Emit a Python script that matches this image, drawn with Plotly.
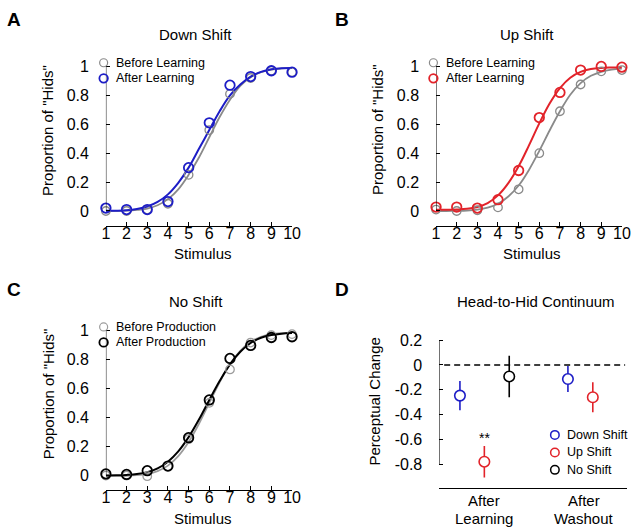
import plotly.graph_objects as go

W, H = 640, 527
FONT = "Liberation Sans, Arial, Helvetica, sans-serif"

# ---------------- data ----------------
stimulus = [1, 2, 3, 4, 5, 6, 7, 8, 9, 10]
fit_x = [1, 1.5, 2, 2.5, 3, 3.5, 4, 4.5, 5, 5.5, 6, 6.5, 7, 7.5, 8, 8.5, 9, 9.5, 10]

# Panel A: Down Shift
down_before = [0.00, 0.00, 0.01, 0.05, 0.25, 0.56, 0.81, 0.92, 0.97, 0.96]
down_after = [0.02, 0.01, 0.01, 0.065, 0.30, 0.61, 0.87, 0.93, 0.97, 0.96]
down_before_fit = [0.0, 0.001, 0.002, 0.007, 0.017, 0.040, 0.082, 0.15, 0.25, 0.37, 0.51,
                   0.65, 0.77, 0.865, 0.925, 0.96, 0.978, 0.986, 0.99]
down_after_fit = [0.001, 0.002, 0.005, 0.014, 0.031, 0.063, 0.115, 0.195, 0.30, 0.43, 0.56,
                  0.69, 0.80, 0.875, 0.93, 0.962, 0.98, 0.988, 0.99]

# Panel B: Up Shift
up_before = [0.01, 0.00, 0.005, 0.025, 0.15, 0.40, 0.69, 0.875, 0.966, 0.975]
up_after = [0.027, 0.027, 0.02, 0.078, 0.28, 0.646, 0.82, 0.975, 1.0, 0.995]
up_before_fit = [0.0, 0.0, 0.001, 0.003, 0.009, 0.023, 0.05, 0.10, 0.176, 0.284, 0.416,
                 0.557, 0.69, 0.804, 0.885, 0.935, 0.963, 0.978, 0.985]
up_after_fit = [0.008, 0.008, 0.01, 0.015, 0.028, 0.055, 0.108, 0.193, 0.31, 0.454, 0.606,
                0.743, 0.85, 0.922, 0.962, 0.982, 0.99, 0.993, 0.995]

# Panel C: No Shift
no_before = [0.00, 0.00, -0.005, 0.063, 0.25, 0.50, 0.73, 0.915, 0.966, 0.973]
no_after = [0.011, 0.007, 0.033, 0.065, 0.26, 0.52, 0.806, 0.895, 0.95, 0.955]
no_before_fit = [-0.003, -0.003, -0.002, 0.002, 0.011, 0.03, 0.068, 0.133, 0.23, 0.356, 0.50,
                 0.642, 0.765, 0.858, 0.92, 0.955, 0.973, 0.98, 0.983]
no_after_fit = [0.0, 0.001, 0.004, 0.01, 0.023, 0.049, 0.095, 0.166, 0.264, 0.385, 0.52,
                0.65, 0.765, 0.852, 0.912, 0.948, 0.967, 0.976, 0.98]

# Panel D: Head-to-Hid Continuum
phases = ["After<br>Learning", "After<br>Washout"]
d_down = [-0.246, -0.113]
d_down_err = [0.117, 0.105]
d_up = [-0.777, -0.259]
d_up_err = [0.126, 0.121]
d_no = [-0.092]
d_no_err = [0.167]

stim_ticks = [1, 2, 3, 4, 5, 6, 7, 8, 9, 10]
prop_ticks = [0, 0.2, 0.4, 0.6, 0.8, 1]
prop_ticktext = ["0", "0.2", "0.4", "0.6", "0.8", "1"]
pc_ticks = [-0.8, -0.6, -0.4, -0.2, 0, 0.2]
pc_ticktext = ["-0.8", "-0.6", "-0.4", "-0.2", "0", "0.2"]

# ---------------- style ----------------
BLUE = "#1d1dc6"
RED = "#e2232a"
GRAY = "#8a8a8a"
LGRAY = "#9c9c9c"
BLACK = "#000000"


def px(x):
    return x / W


def py(y):
    return 1 - y / H


fig = go.Figure()


def add_psych(xa, ya, before, after, before_fit, after_fit, c_before, c_after):
    specs = [
        (before_fit, before, c_before, 1.8, 1.3, 8.5),
        (after_fit, after, c_after, 2.0, 1.8, 9.5),
    ]
    for fit, pts, col, lw, mlw, ms in specs:
        fig.add_trace(go.Scatter(x=fit_x, y=fit, mode="lines", xaxis=xa, yaxis=ya,
                                 line=dict(color=col, width=lw, shape="spline", smoothing=1.0),
                                 showlegend=False, hoverinfo="skip"))
    for fit, pts, col, lw, mlw, ms in specs:
        fig.add_trace(go.Scatter(x=stimulus, y=pts, mode="markers", xaxis=xa, yaxis=ya,
                                 cliponaxis=False,
                                 marker=dict(symbol="circle-open", size=ms, color=col,
                                             line=dict(width=mlw, color=col)),
                                 showlegend=False, hoverinfo="skip"))


add_psych("x", "y", down_before, down_after, down_before_fit, down_after_fit, GRAY, BLUE)
add_psych("x2", "y2", up_before, up_after, up_before_fit, up_after_fit, GRAY, RED)
add_psych("x3", "y3", no_before, no_after, no_before_fit, no_after_fit, LGRAY, BLACK)

# Panel D points (x = phase index + offset)
d_series = [
    (d_down, d_down_err, BLUE, [1, 2], [-0.28, -0.13]),
    (d_up, d_up_err, RED, [1, 2], [-0.02, 0.135]),
    (d_no, d_no_err, BLACK, [1], [0.245]),
]
for vals, errs, col, idx, offs in d_series:
    xs = [i + o for i, o in zip(idx, offs)]
    fig.add_trace(go.Scatter(x=xs, y=vals, mode="markers", xaxis="x4", yaxis="y4",
                             cliponaxis=False,
                             error_y=dict(type="data", array=errs, visible=True, color=col,
                                          thickness=1.6, width=0),
                             marker=dict(symbol="circle", size=10.5, color="white",
                                         line=dict(width=1.6, color=col)),
                             showlegend=False, hoverinfo="skip"))

# ---------------- axes ----------------
tickfont = dict(family=FONT, size=16, color="black")
common_x = dict(showline=True, linecolor="black", linewidth=1, ticks="inside", ticklen=4,
                tickwidth=1, tickcolor="black", showgrid=False, zeroline=False,
                tickfont=tickfont, mirror=False, fixedrange=True, ticklabelstandoff=-7)
common_y = dict(showline=False, ticks="inside", ticklen=4, tickwidth=1, tickcolor="black",
                showgrid=False, zeroline=False, tickfont=tickfont, fixedrange=True,
                ticklabelstandoff=16)

panels = {
    # name: (x0, x1, ytop_px, ybottom_px, yrange)
    "1": (104, 294, 59.1, 223, [-0.103, 1.02]),
    "2": (441, 630.7, 59.1, 223, [-0.103, 1.02]),
    "3": (104, 294, 325.4, 489.3, [-0.0975, 1.02]),
}
for k, (x0, x1, yt, yb, yr) in panels.items():
    xk = "xaxis" if k == "1" else "xaxis" + k
    yk = "yaxis" if k == "1" else "yaxis" + k
    fig.layout[xk] = dict(domain=[px(x0), px(x1)], range=[1, 10], tickvals=stim_ticks,
                          anchor="y" if k == "1" else "y" + k, **common_x)
    fig.layout[yk] = dict(domain=[py(yb), py(yt)], range=yr, tickvals=prop_ticks,
                          ticktext=prop_ticktext, anchor="x" if k == "1" else "x" + k,
                          **common_y)
    fig.add_shape(type="line", xref="x" if k == "1" else "x" + k,
                  yref="y" if k == "1" else "y" + k, x0=1, x1=1, y0=0, y1=1,
                  line=dict(color="black", width=1))

fig.layout["xaxis4"] = dict(domain=[px(444.3), px(636)], range=[0.5, 2.5], tickvals=[0.5, 2.5],
                            ticktext=["", ""], anchor="y4", **common_x)
fig.layout["yaxis4"] = dict(domain=[py(488), py(332)], range=[-0.991, 0.25], tickvals=pc_ticks,
                            ticktext=pc_ticktext, anchor="x4", **common_y)
fig.add_shape(type="line", xref="x4", yref="y4", x0=0.5, x1=0.5, y0=-0.8, y1=0.2,
              line=dict(color="black", width=1))
# zero reference line
fig.add_shape(type="line", xref="paper", yref="y4", x0=px(449.3), x1=px(634), y0=0, y1=0,
              line=dict(color="black", width=1.3, dash="6px,4px"), layer="below")

# ---------------- text ----------------
ann = []


def text(x, y, s, size=15, bold=False, angle=0, xanchor="center", color="black"):
    ann.append(dict(x=px(x), y=py(y), xref="paper", yref="paper",
                    text=("<b>%s</b>" % s) if bold else s,
                    showarrow=False, xanchor=xanchor, yanchor="middle", textangle=angle,
                    font=dict(family=FONT, size=size, color=color)))


# panel letters
text(10.5, 15, "A", size=19, bold=True)
text(345.5, 15, "B", size=19, bold=True)
text(10, 287, "C", size=19, bold=True)
text(345.5, 287, "D", size=19, bold=True)
# titles
text(195, 30, "Down Shift")
text(534, 30, "Up Shift")
text(196, 299, "No Shift")
text(543, 299, "Head-to-Hid Continuum")
# y titles
text(45, 127, 'Proportion of "Hids"', angle=-90)
text(382, 126, 'Proportion of "Hids"', angle=-90)
text(45, 393, 'Proportion of "Hids"', angle=-90)
text(378, 400, "Perceptual Change", angle=-90)
# x titles
text(203, 251, "Stimulus")
text(539, 251, "Stimulus")
text(203, 518, "Stimulus")
for lbl, cx in zip(phases, [490, 591.7]):
    l1, l2 = lbl.split("<br>")
    text(cx, 500, l1)
    text(cx, 518, l2)
text(490, 437, "**", size=14)


def leg(cx, cy, col, s, tx, lw=1.5, d=8.5):
    fig.add_shape(type="circle", xref="paper", yref="paper", xsizemode="pixel", ysizemode="pixel",
                  xanchor=px(cx), yanchor=py(cy), x0=-d / 2, x1=d / 2, y0=-d / 2, y1=d / 2,
                  line=dict(color=col, width=lw), fillcolor="rgba(0,0,0,0)")
    text(tx, cy, s, size=12.5, xanchor="left")


leg(101.7, 58.3, GRAY, "Before Learning", 112.5, lw=1.2, d=8)
leg(101.7, 74, BLUE, "After Learning", 112.5, lw=1.8, d=8.5)
leg(438.3, 58.3, GRAY, "Before Learning", 449.5, lw=1.2, d=8)
leg(438.3, 74, RED, "After Learning", 449.5, lw=1.8, d=8.5)
leg(101.7, 325, LGRAY, "Before Production", 112.5, lw=1.2, d=8)
leg(101.7, 340.7, BLACK, "After Production", 112.5, lw=1.8, d=8.5)
leg(562.3, 434, BLUE, "Down Shift", 572.5, lw=1.5, d=8.5)
leg(562.3, 451.7, RED, "Up Shift", 572.5, lw=1.5, d=8.5)
leg(562.3, 469.3, BLACK, "No Shift", 572.5, lw=1.5, d=8.5)

fig.update_layout(width=W, height=H, autosize=False, margin=dict(l=0, r=0, t=0, b=0),
                  paper_bgcolor="white", plot_bgcolor="white", showlegend=False,
                  annotations=ann, font=dict(family=FONT, color="black"))

fig.write_html("out.html", config={"displayModeBar": False},
               post_script="document.body.style.margin='0px';document.body.style.overflow='hidden';")
